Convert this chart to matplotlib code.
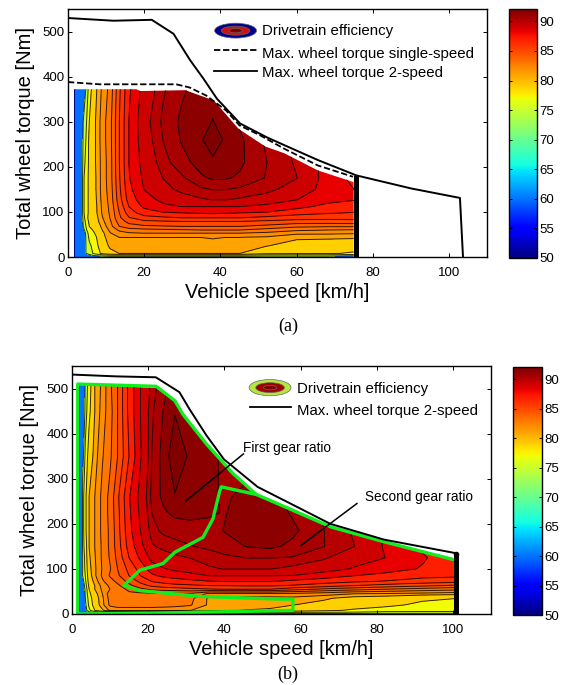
#!/usr/bin/env python3
#
# Drivetrain efficiency maps: single-speed (a) and 2-speed (b)
#
import matplotlib
matplotlib.use('Agg')
import matplotlib.pyplot as plt
import numpy as np
from matplotlib.patches import Ellipse, Polygon

plt.rcParams['font.family'] = ['Liberation Sans', 'DejaVu Sans']

# Efficiency levels, the colorbar value shown for each band, colorbar ticks
levels = [50, 60, 75, 77, 79, 81, 82, 83, 84, 85, 86, 87, 88, 89, 90, 90.5,
          91, 91.5, 93]
band_values = [50, 60, 75, 77, 79, 81, 82, 83, 84, 85, 86, 87, 88.3, 89.2, 90,
               90.6, 91.6, 92]
cbar_ticks = [50, 55, 60, 65, 70, 75, 80, 85, 90]

# Panel a: efficiency map (rows: torque, columns: speed)
speed_a = [1.5, 2.1, 4, 4.7, 5.6, 7, 9, 11, 13.5, 16, 20, 25, 30, 35, 38, 41,
           45, 52, 60, 68, 76]
torque_a = [0, 3, 8, 25, 44, 53, 60, 68, 79, 87, 98, 112, 127, 150, 175, 210,
            260, 300, 375]
eff_a = [
    [50, 60, 70, 72, 73, 74, 74, 74, 74, 74, 74, 74, 74, 74, 74, 74, 74, 74, 74, 74, 74],
    [50, 60, 70, 73, 74, 75, 75.5, 76, 76, 76, 76, 76, 76, 76, 76, 76, 76, 75.5, 75.5, 75.5, 75],
    [50, 60, 71, 75, 76, 77.5, 79.5, 80.6, 81, 81, 81, 81, 81, 81, 81, 81, 81, 79.5, 79.3, 79.2, 78.7],
    [50, 60, 71, 75, 76.5, 78, 80.2, 81.2, 81.4, 81.5, 81.5, 81.5, 81.5, 81.5, 81.5, 81.5, 81.5, 81.1, 80, 79.9, 79.8],
    [50, 60, 72, 75.2, 77.5, 78.5, 80.5, 81.7, 82, 82, 82, 82, 82, 82, 82.1, 82, 82, 81.9, 81.4, 81.3, 81.2],
    [50, 60, 72.5, 75.5, 78, 79, 80.7, 81.9, 82.6, 82.9, 83, 83, 83, 83, 83, 83, 83, 82.8, 82.2, 82.2, 82.1],
    [50, 60, 74, 76.5, 78.5, 79.3, 81, 82.2, 83.2, 83.5, 83.7, 83.8, 83.9, 84, 84, 84, 84, 83.6, 83.2, 83, 82.9],
    [50, 60, 75, 77, 79, 79.8, 81.3, 82.6, 84, 84.6, 84.8, 84.9, 85, 85, 85, 85, 85, 84.7, 84.2, 84.1, 84.1],
    [50, 60, 75.5, 77.5, 79.5, 80.2, 81.7, 82.8, 84.5, 85.3, 85.8, 85.9, 86, 86, 86, 86, 86, 85.8, 85.6, 85.6, 85.7],
    [50, 60, 76, 78, 79.8, 80.3, 81.9, 83, 84.8, 85.9, 86.6, 86.8, 87, 87, 87, 87, 87, 86.7, 86.4, 86.3, 86.3],
    [50, 60, 76.5, 78, 79.5, 80.5, 82.1, 83.1, 85, 86.5, 87.5, 87.9, 88, 88.1, 88.2, 88.1, 88, 87.9, 87.4, 87.1, 86.9],
    [50, 60, 76.5, 78, 79.5, 80.5, 82.2, 83.2, 85.3, 87, 88.2, 88.8, 89, 89, 89, 89, 89, 88.7, 88.3, 87.7, 87.5],
    [50, 60, 76.5, 78, 79.5, 80.6, 82.3, 83.3, 85.6, 87.4, 88.6, 89.2, 89.6, 89.9, 90, 90, 89.9, 89.6, 89, 88.3, 88],
    [50, 60, 76.5, 78, 79.5, 80.7, 82.4, 83.4, 85.8, 87.7, 89, 89.7, 90.2, 90.4, 90.5, 90.5, 90.4, 90.2, 89.6, 88.6, 87.9],
    [50, 60, 76.5, 78, 79.5, 80.7, 82.4, 83.5, 85.9, 87.9, 89.2, 90, 90.4, 90.9, 91.05, 91.05, 90.9, 90.45, 90, 88.6, 87.6],
    [50, 60, 76, 77.5, 79.5, 80.8, 82.4, 83.5, 86, 88, 89.4, 90.3, 90.8, 91.2, 91.3, 91.3, 91.1, 90.5, 89.9, 88.6, 87.5],
    [50, 60, 75.5, 77, 79.5, 80.8, 82.5, 83.6, 86, 88, 89.6, 90.5, 91.05, 91.4, 92, 91.4, 91.1, 90.4, 89.8, 88.6, 87.3],
    [50, 60, 75, 76.5, 79, 80.8, 82.5, 83.6, 86, 88, 89.7, 90.6, 91.1, 91.3, 91.5, 91.3, 90.9, 90.3, 89.8, 88.6, 87.3],
    [50, 60, 72, 75, 78, 80.5, 82.2, 83.3, 85.8, 87.8, 89.4, 90.4, 90.9, 91.2, 91.3, 91.2, 90.5, 90, 89.8, 88.6, 87.3],
]

# Panel a: limit curves
map_speed_a = [1.5, 18, 18.9, 30.8, 38.3, 44.8, 51.8, 56.8, 65.6, 75, 75, 1.5]
map_torque_a = [372, 372, 368, 370, 347, 284, 245, 230, 192, 166, 0, 0]
two_speed_x_a = [0, 11.9, 22, 27.7, 32.1, 35.6, 39.1, 45.2, 52.3, 56.8, 65.6,
                 75.7, 90.1, 102.9, 103.7]
two_speed_y_a = [530, 524, 526, 495, 436, 395, 351, 296, 265, 248, 215, 181,
                 152, 131, 0]
single_x_a = [0, 8.3, 28.4, 31.9, 36.3, 41.5, 45, 50.4, 56.8, 65.6, 74.8]
single_y_a = [388, 383, 383, 376, 358, 325, 292, 270, 240, 203, 178]

# Panel b: efficiency map (rows: torque, columns: speed)
speed_b = [1.5, 2.2, 2.8, 3.5, 4.5, 6, 8, 10, 12, 15, 18, 21, 24, 27, 31, 36,
           40, 46, 52, 58, 66, 74, 82, 92, 101]
torque_b = [0, 3, 8, 20, 35, 45, 55, 63, 72, 85, 100, 125, 150, 185, 225, 260,
            350, 450, 515]
eff_b = [
    [50, 60, 66, 70, 72, 74, 74, 74, 74, 74, 74, 74, 74, 74, 74, 74, 74, 74, 74, 74, 74, 74, 74, 74, 74],
    [50, 60, 66, 72, 74, 75, 76, 76.5, 76.5, 76.5, 76.5, 76.5, 76.5, 76.5, 76.5, 76.5, 76.5, 76.5, 76.5, 76.5, 76.5, 76.5, 76, 76, 76],
    [50, 60, 68, 74, 76.5, 79, 80.8, 82.2, 82.6, 82.6, 82.6, 82.6, 82.5, 82.3, 82, 81.5, 81.1, 80.9, 80.7, 80.2, 79.4, 78.7, 78.2, 78, 78],
    [50, 60, 69, 74.5, 77.5, 80, 81.7, 83.2, 83.3, 83.3, 83.3, 83.3, 83.3, 83.3, 83.1, 81.8, 81.7, 81.6, 81.5, 81, 80.5, 79.9, 79.4, 78.6, 78.4],
    [50, 60, 70, 75, 78, 80.2, 81.8, 83.4, 83.6, 83.6, 83.6, 83.6, 83.6, 83.6, 83.3, 81.8, 81.7, 81.6, 81.6, 81.7, 81.2, 80.5, 80.2, 79.3, 79],
    [50, 60, 71, 75.3, 78.5, 80.5, 82, 83.6, 83.8, 83.8, 83.8, 83.8, 83.8, 83.8, 83.8, 82.8, 82.8, 82.8, 82.8, 82.8, 82.5, 82, 81.9, 81.7, 81.5],
    [50, 60, 72, 75.5, 79, 81, 82.2, 83, 83.5, 84.2, 84.7, 85.2, 85.4, 85.5, 85.7, 85.9, 86, 86, 86, 85.4, 84.8, 84.4, 84, 83.6, 83.3],
    [50, 60, 73, 76, 79.5, 81, 82.4, 83.2, 83.8, 84.7, 85.6, 86.2, 86.5, 86.7, 86.8, 87, 87, 87.1, 87.1, 86.9, 86.5, 86, 85.6, 85.2, 84.8],
    [50, 60, 74, 76.5, 80, 81.4, 82.8, 83.6, 84.2, 85.3, 86.2, 87, 87.3, 87.5, 87.7, 87.9, 88, 88, 88, 87.7, 87.4, 87.1, 86.9, 86.5, 86.3],
    [50, 60, 75, 77, 80.4, 81.8, 83.2, 84.1, 84.8, 86, 87, 87.8, 88.2, 88.4, 88.6, 89, 89, 89, 89, 88.95, 88.5, 88, 87.7, 87.3, 87.2],
    [50, 60, 75, 77.5, 80.6, 81.8, 83.1, 83.9, 85, 86.3, 87.4, 88.5, 88.9, 89.2, 89.5, 89.9, 90, 90, 90, 89.8, 89.4, 88.9, 88.4, 87.9, 87.3],
    [50, 60, 75, 77.8, 80.8, 81.9, 83.2, 84.1, 85.3, 87, 88.2, 89.3, 89.65, 89.85, 90, 90.2, 90.35, 90.5, 90.5, 90.45, 90.1, 89.4, 89, 88.1, 87.3],
    [50, 60, 76, 78, 81, 82, 83.2, 84.2, 85.5, 87.4, 88.7, 89.9, 90.15, 90.3, 90.45, 90.6, 90.8, 91, 91.1, 90.85, 90.5, 90, 88.9, 87.8, 87.1],
    [50, 60, 76, 78.5, 81, 82, 83.3, 84.2, 85.6, 87.7, 89, 90.3, 90.6, 90.7, 90.75, 90.8, 91, 91.2, 91.3, 91.1, 90.5, 89.9, 88.9, 87.8, 87.1],
    [50, 60, 76, 78.5, 81, 82, 83.3, 84.3, 85.7, 87.8, 89.2, 90.5, 90.9, 91.1, 91.15, 91.05, 90.95, 91.2, 91.3, 90.9, 90.4, 89.4, 88.5, 87.5, 87],
    [50, 60, 76, 78.5, 81, 82, 83.3, 84.3, 85.8, 87.9, 89.3, 90.65, 91.1, 91.45, 91.3, 91.1, 90.9, 91.15, 91.2, 90.7, 90.1, 89.3, 88.5, 87.5, 87],
    [50, 60, 74, 77.5, 80, 81.5, 82.9, 83.8, 85, 87, 88.9, 90.5, 91.2, 91.8, 91.4, 91.1, 90.9, 90.7, 90.5, 90.3, 89.9, 89.2, 88.5, 87.3, 86.8],
    [50, 60, 70, 76, 78.5, 81, 82.5, 83.6, 85, 87.3, 89, 90.4, 91, 91.45, 91.3, 91, 90.8, 90.5, 90.3, 90.2, 89.9, 89.2, 88.5, 87.3, 86.8],
    [50, 60, 68, 75.5, 78, 81, 82.3, 83.8, 85, 87.3, 89, 90.2, 90.8, 91.2, 91, 90.9, 90.8, 90.5, 90.3, 90.2, 89.9, 89.2, 88.5, 87.3, 86.8],
]

# Panel b: limit curves and gear regions
map_speed_b = [1.5, 22.1, 27, 29.1, 35.3, 42.2, 48.4, 55, 68, 82, 100.5, 100.5,
               1.5]
map_torque_b = [510, 501, 473, 443, 377, 312, 265, 241, 193, 160, 123, 0, 0]
two_speed_x_b = [0, 11.5, 22, 28.2, 30.8, 35.3, 39.9, 48.7, 55.7, 67.8, 81.9,
                 100.7]
two_speed_y_b = [531, 527, 525, 492, 455, 396, 343, 282, 252, 200, 165, 135]
gear1_x = [1.5, 1.5, 22.1, 27, 29.1, 35.3, 42.2, 48.4, 39.2, 38.8, 37, 34.4,
           27, 23.9, 17.8, 13.6, 17.8, 33.5, 54.5, 58, 58, 40, 22, 1.5]
gear1_y = [0, 510, 505, 473, 443, 377, 312, 265, 282, 273, 211, 170, 137, 112,
           97, 63, 52, 39, 33, 33, 8, 5, 2, 0]
gear2_x = [48.4, 55, 68, 82, 100.5]
gear2_y = [265, 241, 193, 160, 120]
green = '#10ee20'

W, H = 568, 685
fig = plt.figure(figsize=(W / 100, H / 100), dpi=100)


def pixel_axes(left, top, right, bottom):
    """ Add axes given by pixel edges of the figure. """
    return fig.add_axes([left / W, 1 - bottom / H, (right - left) / W,
                         (bottom - top) / H])


cmap = matplotlib.colormaps['jet']
norm = matplotlib.colors.Normalize(50, 92.1)
fill_colors = [cmap(norm(v)) for v in band_values]
# Shift a hair so map values equal to a level don't make ties
edges = np.array(levels) - 0.02


def efficiency_map(ax, speed, torque, eff, map_x, map_y):
    """ Filled contours clipped to the operating region. """
    clip = Polygon(np.column_stack([map_x, map_y]), closed=True,
                   transform=ax.transData, facecolor='none', edgecolor='none')
    ax.add_patch(clip)
    cf = ax.contourf(speed, torque, eff, levels=edges, colors=fill_colors)
    cf.set_clip_path(clip)
    cl = ax.contour(speed, torque, eff, levels=edges[2:-1], colors='k',
                    linewidths=0.7, alpha=0.8)
    cl.set_clip_path(clip)


def style_axes(ax):
    ax.set_xlim(0, 110)
    ax.set_ylim(0, 550)
    ax.set_xticks([0, 20, 40, 60, 80, 100])
    ax.set_yticks([0, 100, 200, 300, 400, 500])
    ax.tick_params(direction='in', top=True, right=True, length=3, width=0.7,
                   labelsize=9.5, pad=2.5)
    ax.tick_params(axis='x', pad=7)
    ax.set_xlabel('Vehicle speed [km/h]', fontsize=14.4, labelpad=3)
    ax.set_ylabel('Total wheel torque [Nm]', fontsize=14.5, labelpad=5)
    for s in ax.spines.values():
        s.set_linewidth(1.0)


def colorbar(left, top, right, bottom):
    cax = pixel_axes(left, top, right, bottom)
    sm = matplotlib.cm.ScalarMappable(norm=norm, cmap=cmap)
    cb = fig.colorbar(sm, cax=cax, ticks=cbar_ticks)
    cb.ax.tick_params(direction='in', left=True, right=True, length=2,
                      width=0.7, labelsize=9.5, pad=2)
    cb.outline.set_linewidth(1.0)


#
# Panel a
#
ax = pixel_axes(68, 9, 487, 257)
efficiency_map(ax, speed_a, torque_a, eff_a, map_speed_a, map_torque_a)
ax.plot(two_speed_x_a, two_speed_y_a, 'k-', lw=1.4)
ax.plot(single_x_a, single_y_a, 'k--', lw=1.3, dashes=(3.5, 1.5))
ax.plot([75.7, 75.7], [0, 181], 'k-', lw=3.6, solid_capstyle='butt')
style_axes(ax)

# Legend
for w, h, c in [(11, 33, '#00008c'), (7.5, 20, '#d01010'), (3.5, 10, '#800000')]:
    ax.add_patch(Ellipse((44, 502), w, h, facecolor=c, edgecolor='#666666',
                         lw=0.5))
ax.plot([38.4, 49.5], [458, 458], 'k--', lw=1.3, dashes=(3.5, 1.5))
ax.plot([38.4, 49.5], [413, 413], 'k-', lw=1.3)
ax.text(51, 502, 'Drivetrain efficiency', fontsize=10.8, va='center')
ax.text(51, 451, 'Max. wheel torque single-speed', fontsize=10.8, va='center')
ax.text(51, 407, 'Max. wheel torque 2-speed', fontsize=10.8, va='center')

colorbar(509, 9, 537, 258)
fig.text(288 / W, 1 - 326 / H, '(a)', family='Liberation Serif', fontsize=13,
         ha='center', va='center')

#
# Panel b
#
ax = pixel_axes(72, 366, 491, 614)
efficiency_map(ax, speed_b, torque_b, eff_b, map_speed_b, map_torque_b)
ax.plot(gear1_x, gear1_y, '-', color=green, lw=2.4, solid_joinstyle='round')
ax.plot(gear2_x, gear2_y, '-', color=green, lw=2.4)
ax.plot(two_speed_x_b, two_speed_y_b, 'k-', lw=1.4)
ax.plot([100.9, 100.9], [0, 132], 'k-', lw=3.6, solid_capstyle='butt')
ax.plot([100.9], [132], 'ko', ms=3)
style_axes(ax)

# Gear annotations
ax.plot([29.8, 45], [250, 355], 'k-', lw=1.1)
ax.text(45, 368, 'First gear ratio', fontsize=9.8, va='center')
ax.plot([60.1, 74.8], [152, 245], 'k-', lw=1.1)
ax.text(77, 259, 'Second gear ratio', fontsize=9.8, va='center')

# Legend
for w, h, c in [(11, 36, '#b4e640'), (7.5, 22, '#a00000'), (3.5, 10, '#800000')]:
    ax.add_patch(Ellipse((52, 502), w, h, facecolor=c, edgecolor='#666666',
                         lw=0.5))
ax.plot([46.6, 57.4], [460, 460], 'k-', lw=1.3)
ax.text(59, 500, 'Drivetrain efficiency', fontsize=10.8, va='center')
ax.text(59, 450, 'Max. wheel torque 2-speed', fontsize=10.8, va='center')

colorbar(513, 367, 542, 615)
fig.text(288 / W, 1 - 674 / H, '(b)', family='Liberation Serif', fontsize=13,
         ha='center', va='center')

fig.savefig('out.png', dpi=100)
